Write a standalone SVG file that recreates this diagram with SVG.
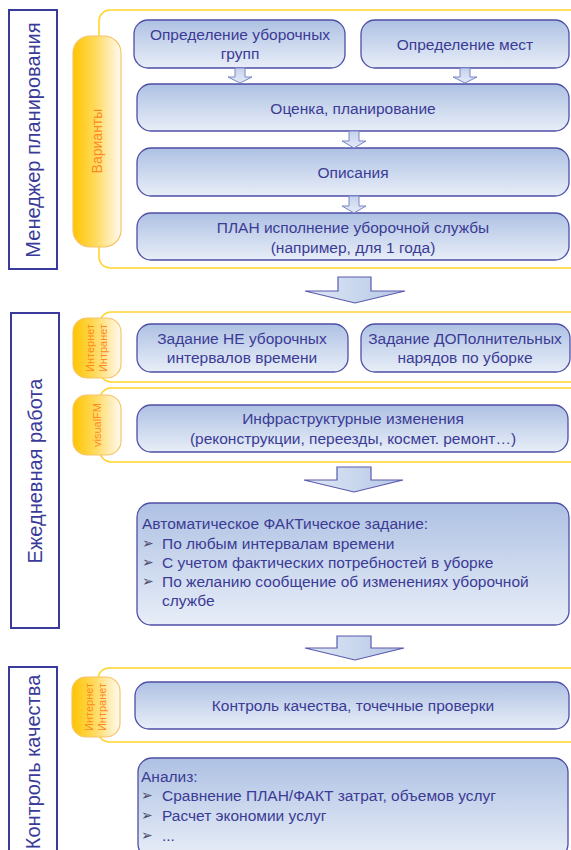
<svg xmlns="http://www.w3.org/2000/svg" width="571" height="850" viewBox="0 0 571 850">
<defs>
<linearGradient id="gNode" x1="0" y1="0" x2="0" y2="1">
<stop offset="0" stop-color="#aec1e3"/>
<stop offset="1" stop-color="#e8eef8"/>
</linearGradient>
<linearGradient id="gPill" x1="0" y1="0" x2="1" y2="0">
<stop offset="0" stop-color="#ffc400"/>
<stop offset="0.45" stop-color="#ffd95a"/>
<stop offset="1" stop-color="#fffaf0"/>
</linearGradient>
<linearGradient id="gArrow" x1="0" y1="0" x2="1" y2="0">
<stop offset="0" stop-color="#dfe7f5"/>
<stop offset="1" stop-color="#b4c7e6"/>
</linearGradient>
<linearGradient id="gSmall" x1="0" y1="0" x2="0" y2="1">
<stop offset="0" stop-color="#c3d2ec"/>
<stop offset="1" stop-color="#e4ebf7"/>
</linearGradient>
</defs>
<style>
.node rect{fill:url(#gNode);stroke:#4e4ea6;stroke-width:1.3}
.frame{fill:#ffffff;stroke:#ffd52e;stroke-width:1.6}
.pill{fill:url(#gPill);stroke:#f6c36a;stroke-width:1.2}
.lbl rect{fill:#ffffff;stroke:#3a3a9a;stroke-width:2}
text{font-family:"Liberation Sans",Arial,sans-serif}
.t{font-size:15.5px;fill:#3b3b95;text-anchor:middle;dominant-baseline:central}
.tl{font-size:15.5px;fill:#3b3b95;dominant-baseline:central}
.b{font-family:"DejaVu Sans",sans-serif;font-size:14px;fill:#4a4a6a;dominant-baseline:central}
.lt{font-size:20px;fill:#3a3a9a;text-anchor:middle;dominant-baseline:central}
.pt{font-size:14px;fill:#ff8a1c;text-anchor:middle;dominant-baseline:central}
.ps{font-size:11px;fill:#ff8a1c;text-anchor:middle;dominant-baseline:central}
.sa{fill:url(#gSmall);stroke:#7c84c4;stroke-width:1}
.ba{fill:url(#gArrow);stroke:#5a5aac;stroke-width:1.2}
</style>

<!-- section labels -->
<g id="label-planning" class="lbl"><rect x="9" y="10" width="48" height="259"/><text class="lt" x="33" y="140" transform="rotate(-90 33 140)">Менеджер планирования</text></g>
<g id="label-daily" class="lbl"><rect x="11" y="313" width="48" height="315"/><text class="lt" x="35" y="471" transform="rotate(-90 35 471)">Ежедневная работа</text></g>
<g id="label-quality" class="lbl"><rect x="9" y="667" width="48" height="200"/><text class="lt" x="33" y="762" transform="rotate(-90 33 762)">Контроль качества</text></g>

<!-- frames -->
<g id="frame-1"><rect class="frame" x="99" y="10" width="500" height="258" rx="11"/></g>
<g id="frame-2"><rect class="frame" x="100" y="312" width="500" height="70" rx="11"/></g>
<g id="frame-3"><rect class="frame" x="100" y="388" width="500" height="74" rx="11"/></g>
<g id="frame-4"><rect class="frame" x="98" y="668" width="500" height="74" rx="11"/></g>

<!-- pills -->
<g id="pill-variants"><rect class="pill" x="73" y="36" width="48" height="211" rx="17"/><text class="pt" x="97" y="141" transform="rotate(-90 97 141)">Варианты</text></g>
<g id="pill-internet-1"><rect class="pill" x="73" y="318" width="48" height="60" rx="14"/><text class="ps" x="90" y="348" transform="rotate(-90 90 348)">Интернет</text><text class="ps" x="103" y="348" transform="rotate(-90 103 348)">Интранет</text></g>
<g id="pill-visualfm"><rect class="pill" x="73" y="395" width="48" height="60" rx="14"/><text class="ps" x="97" y="425" transform="rotate(-90 97 425)">visualFM</text></g>
<g id="pill-internet-2"><rect class="pill" x="72" y="677" width="48" height="60" rx="14"/><text class="ps" x="89" y="707" transform="rotate(-90 89 707)">Интернет</text><text class="ps" x="102" y="707" transform="rotate(-90 102 707)">Интранет</text></g>

<!-- nodes -->
<g id="n-groups" class="node"><rect x="134" y="20" width="211" height="48" rx="14"/><text class="t" x="240" y="34">Определение уборочных</text><text class="t" x="240" y="53">групп</text></g>
<g id="n-places" class="node"><rect x="361" y="20" width="208" height="48" rx="14"/><text class="t" x="465" y="44">Определение мест</text></g>
<g id="n-eval" class="node"><rect x="137" y="84" width="432" height="47" rx="14"/><text class="t" x="353" y="108">Оценка, планирование</text></g>
<g id="n-desc" class="node"><rect x="137" y="148" width="432" height="48" rx="14"/><text class="t" x="353" y="172">Описания</text></g>
<g id="n-plan" class="node"><rect x="137" y="213" width="432" height="47" rx="14"/><text class="t" x="353" y="227">ПЛАН исполнение уборочной службы</text><text class="t" x="353" y="247">(например, для 1 года)</text></g>

<g id="n-noncleaning" class="node"><rect x="137" y="324" width="211" height="48" rx="14"/><text class="t" x="242" y="338">Задание НЕ уборочных</text><text class="t" x="242" y="357">интервалов времени</text></g>
<g id="n-additional" class="node"><rect x="361" y="324" width="209" height="48" rx="14"/><text class="t" x="465" y="338">Задание ДОПолнительных</text><text class="t" x="465" y="357">нарядов по уборке</text></g>
<g id="n-infra" class="node"><rect x="137" y="405" width="431" height="47" rx="14"/><text class="t" x="353" y="418">Инфраструктурные изменения</text><text class="t" x="353" y="438">(реконструкции, переезды, космет. ремонт…)</text></g>

<g id="n-fact" class="node"><rect x="137" y="503" width="432" height="122" rx="14"/>
<text class="tl" x="142" y="523">Автоматическое ФАКТическое задание:</text>
<text class="b" x="142" y="543">➢</text><text class="tl" x="162" y="543">По любым интервалам времени</text>
<text class="b" x="142" y="562">➢</text><text class="tl" x="162" y="562">С учетом фактических потребностей в уборке</text>
<text class="b" x="142" y="581">➢</text><text class="tl" x="162" y="581">По желанию сообщение об изменениях уборочной</text>
<text class="tl" x="162" y="600">службе</text>
</g>

<g id="n-quality" class="node"><rect x="135" y="682" width="434" height="47" rx="14"/><text class="t" x="353" y="705">Контроль качества, точечные проверки</text></g>
<g id="n-analysis" class="node"><rect x="138" y="758" width="430" height="100" rx="14"/>
<text class="tl" x="141" y="776">Анализ:</text>
<text class="b" x="141" y="795">➢</text><text class="tl" x="162" y="795">Сравнение ПЛАН/ФАКТ затрат, объемов услуг</text>
<text class="b" x="141" y="815">➢</text><text class="tl" x="162" y="815">Расчет экономии услуг</text>
<text class="b" x="141" y="835">➢</text><text class="tl" x="162" y="835">...</text>
</g>

<!-- connectors -->
<g id="connectors">
<path class="sa" d="M235,68 H245 V77 H252 L240,83 L228,77 H235 Z"/>
<path class="sa" d="M460,68 H470 V77 H477 L465,83 L453,77 H460 Z"/>
<path class="sa" d="M349,131 H359 V141 H366 L354,148 L342,141 H349 Z"/>
<path class="sa" d="M349,196 H359 V206 H366 L354,213 L342,206 H349 Z"/>
<path class="ba" d="M338,277 H371 V291 H405 L355,303 L305,291 H338 Z"/>
<path class="ba" d="M337,467 H371 V480 H403 L354,492 L304,480 H337 Z"/>
<path class="ba" d="M337,636 H371 V648 H404 L355,660 L305,648 H337 Z"/>
</g>
</svg>
